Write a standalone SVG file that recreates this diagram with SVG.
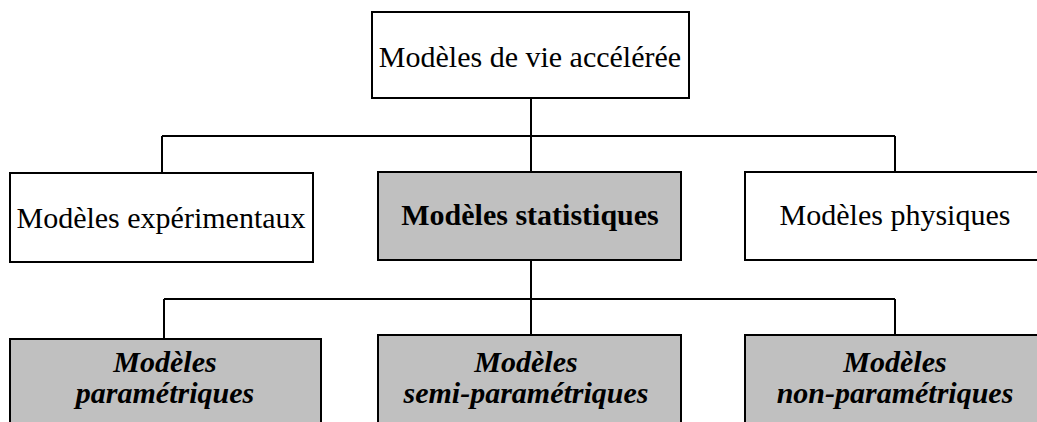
<svg xmlns="http://www.w3.org/2000/svg" width="1037" height="422" viewBox="0 0 1037 422">
<style>
.box{stroke:#000;stroke-width:2}
.w{fill:#fff}
.g{fill:#c0c0c0}
.t{font-family:"Liberation Serif","Times New Roman",serif;font-size:30px;fill:#000;text-anchor:middle}
.b{font-weight:bold}
.bi{font-weight:bold;font-style:italic}
.conn{fill:none;stroke:#000;stroke-width:2}
</style>
<rect width="1037" height="422" fill="#fff"/>
<g id="connectors" class="conn">
<path d="M531 98V172M162 136H895M162 136V173M895 136V172"/>
<path d="M531 260V335M164 299H895M164 299V339M895 299V335"/>
</g>
<g id="n-root">
<rect class="box w" x="372" y="12" width="317" height="86"/>
<text class="t" x="530" y="67">Modèles de vie accélérée</text>
</g>
<g id="n-exp">
<rect class="box w" x="10" y="173" width="303" height="89"/>
<text class="t" x="161" y="228">Modèles expérimentaux</text>
</g>
<g id="n-stat">
<rect class="box g" x="378" y="172" width="303" height="88"/>
<text class="t b" x="530" y="225">Modèles statistiques</text>
</g>
<g id="n-phys">
<rect class="box w" x="745" y="172" width="303" height="88"/>
<text class="t" x="895" y="225">Modèles physiques</text>
</g>
<g id="n-param">
<rect class="box g" x="10" y="339" width="311" height="100"/>
<text class="t bi" x="165" y="372">Modèles</text>
<text class="t bi" x="165" y="403">paramétriques</text>
</g>
<g id="n-semi">
<rect class="box g" x="378" y="335" width="303" height="100"/>
<text class="t bi" x="526" y="372">Modèles</text>
<text class="t bi" x="526" y="403">semi-paramétriques</text>
</g>
<g id="n-nonparam">
<rect class="box g" x="745" y="335" width="303" height="100"/>
<text class="t bi" x="895" y="372">Modèles</text>
<text class="t bi" x="895" y="403">non-paramétriques</text>
</g>
</svg>
